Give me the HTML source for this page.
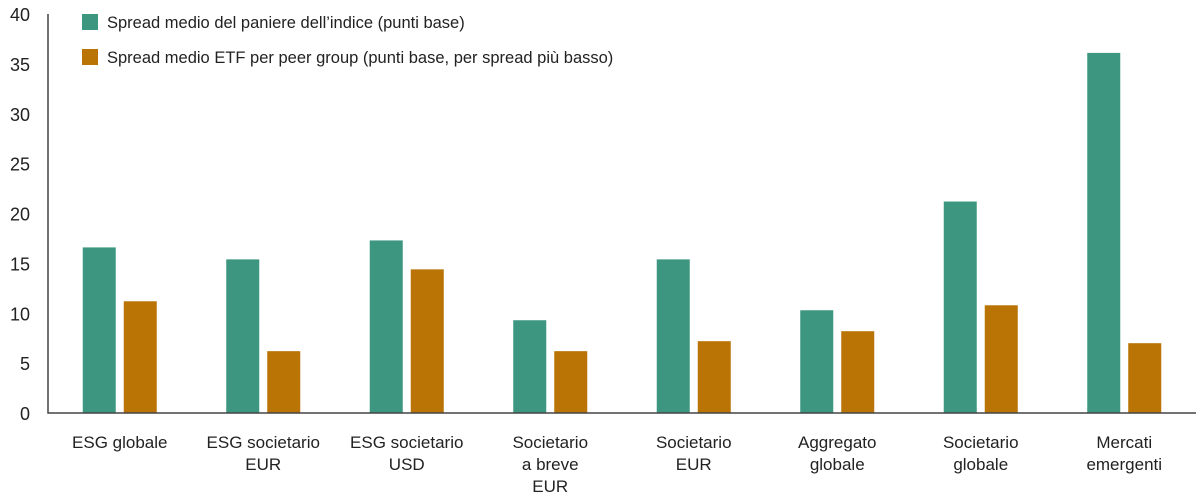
<!DOCTYPE html>
<html><head><meta charset="utf-8"><style>
body{margin:0;background:#fff}
svg{display:block;font-family:"Liberation Sans",sans-serif}
</style></head><body>
<svg id="chart" width="1200" height="502" viewBox="0 0 1200 502"></svg>
<script>
const categories=[["ESG globale"],["ESG societario","EUR"],["ESG societario","USD"],["Societario","a breve","EUR"],["Societario","EUR"],["Aggregato","globale"],["Societario","globale"],["Mercati","emergenti"]];
const indexSpread=[16.6,15.4,17.3,9.3,15.4,10.3,21.2,36.1];
const etfSpread=[11.2,6.2,14.4,6.2,7.2,8.2,10.8,7.0];
const yTicks=[0,5,10,15,20,25,30,35,40];
const seriesNames=["Spread medio del paniere dell’indice (punti base)","Spread medio ETF per peer group (punti base, per spread più basso)"];
const NS="http://www.w3.org/2000/svg";
const svg=document.getElementById('chart');
const x0=48,x1=1196,y0=413,yTop=14,yMax=40;
const y=v=>y0-(v/yMax)*(y0-yTop);
const gw=(x1-x0)/categories.length;
const xc=i=>x0+gw*(i+0.5);
function mk(t,a){const e=document.createElementNS(NS,t);for(const k in a)e.setAttribute(k,a[k]);svg.appendChild(e);return e;}
yTicks.forEach(t=>{const e=mk('text',{x:30,y:y(t)+7,'text-anchor':'end','font-size':18,fill:'#222'});e.textContent=t;

});
categories.forEach((c,i)=>{
const b1=mk('rect',{x:xc(i)-37,y:y(indexSpread[i]),width:33,height:y0-y(indexSpread[i]),fill:'#3c9680'});


const b2=mk('rect',{x:xc(i)+4,y:y(etfSpread[i]),width:33,height:y0-y(etfSpread[i]),fill:'#ba7406'});


c.forEach((l,j)=>{const t=mk('text',{x:xc(i),y:448+j*22,'text-anchor':'middle','font-size':17,fill:'#222'});t.textContent=l;

});
});
const ax=mk('path',{d:`M${x0} 14V${y0}H${x1}`,stroke:'#444','stroke-width':1.5,fill:'none'});


const cols=['#3c9680','#ba7406'];
seriesNames.forEach((n,i)=>{
const r=mk('rect',{x:82,y:14+i*35,width:16,height:16,fill:cols[i]});


const t=mk('text',{x:107,y:28+i*35,'font-size':16.5,fill:'#222'});t.textContent=n;


});
</script>
</body></html>
